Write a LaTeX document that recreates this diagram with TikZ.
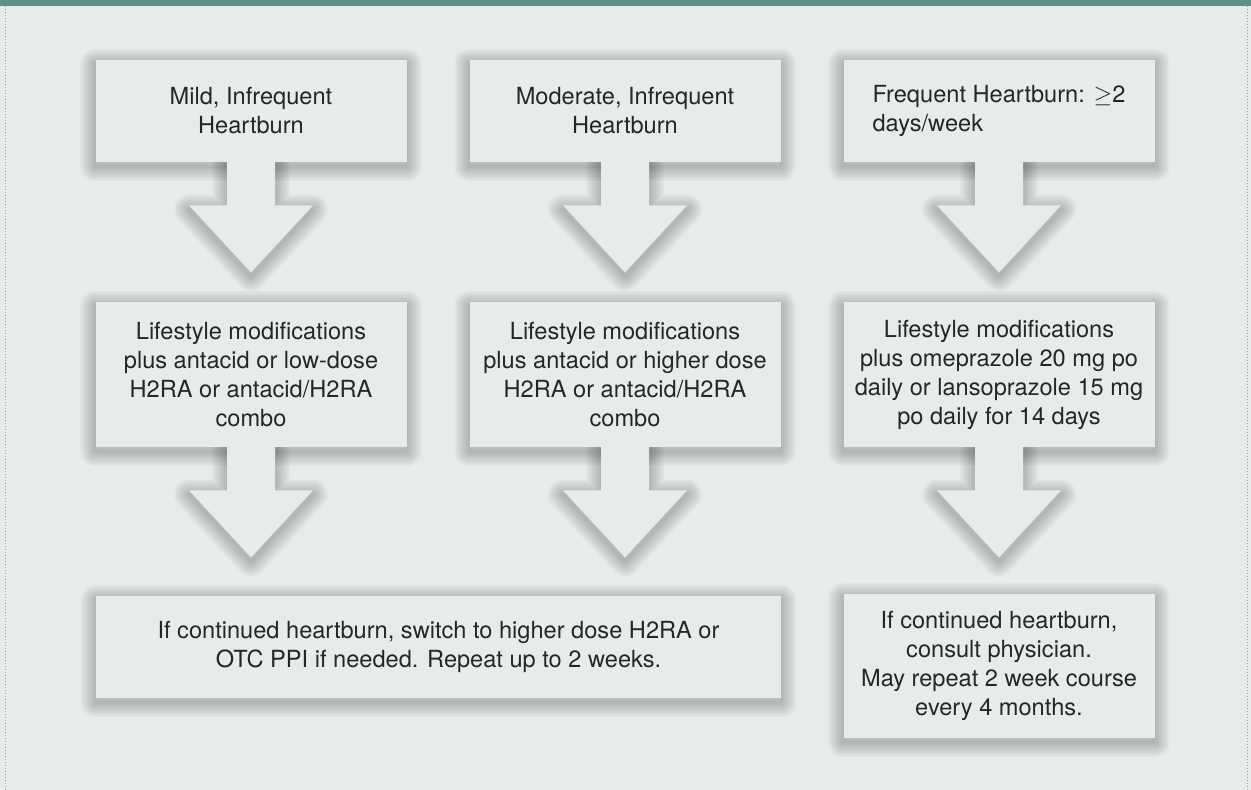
\documentclass[tikz,border=0pt]{standalone}
\usepackage{fontspec}
\setmainfont{TeX Gyre Heros}
\usetikzlibrary{calc}

\definecolor{panel}{HTML}{E6ECEC}
\definecolor{topbar}{HTML}{5B918A}
\definecolor{frame}{HTML}{A89B82}

\pgfdeclarelayer{back}
\pgfsetlayers{back,main}

% block arrow under a box, #2 moves it down (px)
\newcommand\blockarrow[2]{($(#1.south)+(-24,#2)$) -- ++(0,45) -- ++(-38,0) -- ++(62,67)
    -- ++(62,-67) -- ++(-38,0) -- ++(0,-45) -- cycle}

\tikzset{
    stepbox/.style={fill=panel, text=black!85, inner sep=0pt, align=center,
        font=\fontsize{11.8pt}{14.5pt}\selectfont},
    shadowline/.style={draw=black, draw opacity=0.024, line join=round},
}

\begin{document}
\begin{tikzpicture}[x=0.5pt, y=-0.5pt]
            \useasboundingbox (0,0) rectangle (1251,790);

            % Panel
            \begin{pgfonlayer}{back}
                \fill[panel] (0,0) rectangle (1251,790);
                \fill[topbar] (0,0) rectangle (1251,6);
                \draw[frame, line width=0.5pt, dash pattern=on 0.5pt off 1pt] (5.5,6) -- (5.5,790);
                \draw[frame, line width=0.5pt, dash pattern=on 0.5pt off 1pt] (1247.5,6) -- (1247.5,790);
            \end{pgfonlayer}

            % Symptoms
            \node[stepbox, minimum width=155.5pt, minimum height=51pt] (mild) at (251,111) {Mild, Infrequent\\Heartburn};
            \node[stepbox, minimum width=155.5pt, minimum height=51pt] (moderate) at (625,111) {Moderate, Infrequent\\Heartburn};
            \node[stepbox, minimum width=155.5pt, minimum height=51pt, align=left] (frequent) at (999,111) {Frequent Heartburn: $\geq$2\\days/week};

            % First treatment
            \node[stepbox, minimum width=155.5pt, minimum height=72.5pt] (lsa) at (251,374.5) {Lifestyle modifications\\plus antacid or low-dose\\H2RA or antacid/H2RA\\combo};
            \node[stepbox, minimum width=155.5pt, minimum height=72.5pt] (lsb) at (625,374.5) {Lifestyle modifications\\plus antacid or higher dose\\H2RA or antacid/H2RA\\combo};
            \node[stepbox, minimum width=155.5pt, minimum height=72.5pt] (lsc) at (999,374.5) {Lifestyle modifications\\plus omeprazole 20 mg po\\daily or lansoprazole 15 mg\\po daily for 14 days};

            % If it continues
            \node[stepbox, minimum width=342.5pt, minimum height=51pt] (switch) at (438.5,647) {If continued heartburn, switch to higher dose H2RA or\\OTC PPI if needed. Repeat up to 2 weeks.};
            \node[stepbox, minimum width=155.5pt, minimum height=72pt] (consult) at (999,666) {If continued heartburn,\\consult physician.\\May repeat 2 week course\\every 4 months.};

            % Soft shadows, then the block arrows
            \begin{pgfonlayer}{back}
                \foreach \n in {mild,moderate,frequent,lsa,lsb,lsc,switch,consult}
                    \foreach \k in {1,...,10}
                        \path[shadowline, line width=1.5pt*\k] ($(\n.south west)+(0,4)$) rectangle ($(\n.north east)+(0,4)$);
                \foreach \n in {mild,moderate,frequent,lsa,lsb,lsc}
                    \foreach \k in {1,...,10}
                        \path[shadowline, line width=1.5pt*\k] \blockarrow{\n}{2};
                \foreach \n in {mild,moderate,frequent,lsa,lsb,lsc}
                    \fill[panel] \blockarrow{\n}{-2};
            \end{pgfonlayer}

        \end{tikzpicture}
\end{document}
